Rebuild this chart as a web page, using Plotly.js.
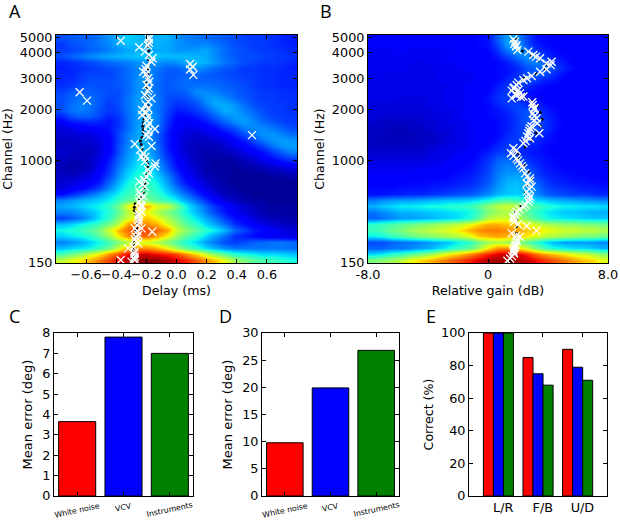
<!DOCTYPE html>
<html><head><meta charset="utf-8">
<script src="https://cdn.plot.ly/plotly-3.0.1.min.js"></script>
<style>html,body{margin:0;padding:0;background:#fff}</style></head>
<body><div id="chart" style="width:620px;height:521px"></div>
<script>
// Heatmap values (0-100), rows listed top to bottom
const heatA = [
[20,21,22,22,24,27,30,33,31,29,30,30,27,25,24,23,22,21,20,19,18,18,17,16,15],
[18,20,21,23,24,26,30,31,31,29,30,29,27,26,25,26,24,22,20,19,18,18,17,16,15],
[18,19,20,22,23,25,27,29,30,29,29,29,27,27,28,29,26,23,21,20,19,18,18,17,16],
[20,22,24,26,28,29,30,31,32,32,32,31,31,31,30,29,26,23,21,20,20,19,18,18,17],
[16,17,18,20,21,23,24,25,27,27,27,26,27,29,31,30,27,24,22,20,19,18,18,17,16],
[15,16,17,18,19,20,21,23,26,26,24,22,22,24,27,25,23,21,20,18,18,17,17,16,15],
[16,16,18,19,19,19,21,23,26,27,23,21,21,22,23,22,21,20,19,18,18,17,17,16,16],
[16,17,18,20,20,20,21,23,27,27,23,21,22,23,22,22,22,21,20,19,18,17,17,16,16],
[17,18,20,21,20,20,21,23,27,26,23,21,22,23,24,24,23,22,21,20,18,17,17,16,16],
[19,21,22,22,21,20,20,23,27,27,23,21,21,22,26,26,25,23,22,20,19,18,18,17,17],
[20,22,24,23,21,19,20,24,28,28,24,20,19,20,23,27,28,26,23,21,19,18,18,17,17],
[20,23,25,24,21,18,20,24,28,27,24,20,17,18,20,25,29,29,27,23,20,19,18,18,17],
[20,24,25,23,20,18,19,24,28,28,24,19,15,16,18,21,26,30,28,25,22,20,18,18,17],
[16,20,22,22,19,16,18,23,28,29,25,18,13,13,15,18,22,26,28,27,24,21,19,18,18],
[11,14,15,16,15,14,17,23,28,30,25,17,12,10,12,14,18,22,26,28,26,23,21,19,18],
[8,9,11,12,13,14,18,23,29,29,24,16,11,9,9,11,13,17,20,25,26,26,24,22,20],
[7,7,8,8,10,13,19,25,29,28,22,15,10,8,7,8,10,12,16,20,24,27,27,25,23],
[6,6,7,7,9,12,19,25,30,29,22,15,10,7,6,6,7,9,12,15,20,24,27,28,27],
[6,6,6,6,8,12,20,26,31,30,23,15,10,7,5,5,5,7,9,12,15,19,24,27,28],
[7,6,5,5,8,12,20,27,31,30,24,16,11,7,5,4,4,5,6,9,11,14,18,22,25],
[6,5,5,6,9,14,22,28,33,33,25,18,12,8,5,4,3,3,4,6,8,11,14,17,19],
[5,4,4,6,10,16,23,29,35,35,28,20,13,9,6,4,3,3,3,4,5,7,9,11,13],
[5,4,5,7,11,17,25,32,37,37,30,22,15,10,7,4,3,3,2,3,3,4,5,6,7],
[6,6,7,9,13,19,27,34,39,39,33,26,18,12,8,5,4,3,2,2,2,2,3,3,4],
[7,8,9,11,15,22,30,37,41,41,36,28,20,14,10,7,5,3,2,2,2,2,2,2,2],
[8,10,12,15,19,26,33,39,43,43,38,31,24,18,13,9,6,4,3,2,2,2,2,2,2],
[13,16,19,23,27,32,37,42,45,45,41,35,29,23,17,12,8,5,4,3,2,2,2,2,2],
[25,27,29,31,33,36,41,46,49,49,45,41,36,29,23,17,12,8,6,4,3,3,2,2,2],
[29,30,32,35,37,41,49,63,72,72,62,60,49,37,29,23,17,13,10,7,5,4,3,3,3],
[25,26,28,31,35,39,47,57,64,64,56,50,45,37,31,25,19,14,10,8,6,4,3,3,3],
[19,21,24,29,35,41,51,60,68,70,64,56,49,41,35,29,24,18,14,11,8,6,5,4,4],
[31,33,36,39,43,49,58,74,78,76,72,62,54,46,40,34,29,23,17,14,11,9,7,6,5],
[37,39,41,45,50,60,72,80,85,83,80,74,60,52,46,40,36,30,23,19,15,13,11,9,8],
[33,35,37,40,46,54,66,76,80,80,74,65,54,46,40,34,28,23,17,15,13,11,10,9,8],
[25,27,29,33,37,43,50,56,60,60,56,50,44,38,34,28,24,20,18,20,22,23,24,24,23],
[31,33,35,37,42,48,60,72,76,76,72,64,54,46,40,34,30,26,24,24,24,24,24,24,23],
[44,48,52,60,66,76,84,90,93,93,90,88,84,76,68,60,52,46,40,38,36,34,34,33,32],
[58,62,66,72,78,84,90,96,99,99,99,96,92,88,82,76,70,62,54,50,46,44,42,40,38]
];
const heatB = [
[11,11,11,11,11,11,11,11,11,11,12,13,14,22,28,26,19,14,13,12,12,11,11,11,11],
[11,11,11,11,11,11,11,11,11,11,12,13,14,20,28,28,20,15,13,12,12,11,11,11,11],
[10,10,10,11,10,10,10,10,10,11,11,12,13,17,24,28,24,17,15,13,12,11,11,11,11],
[10,10,10,10,10,10,10,10,11,11,11,11,12,15,19,24,27,22,17,14,13,12,11,11,11],
[10,10,10,10,10,9,10,10,10,11,11,11,12,13,15,19,24,25,22,17,14,12,11,11,11],
[10,10,10,10,9,9,9,10,10,10,11,11,12,13,14,16,20,22,23,19,15,13,12,11,11],
[10,9,9,9,9,9,9,10,10,10,10,11,12,13,14,17,20,22,20,16,13,12,11,11,11],
[9,9,9,9,9,9,9,10,10,10,10,11,12,13,16,18,20,18,15,14,12,12,11,11,11],
[9,9,9,9,9,9,9,9,10,10,11,11,12,15,17,18,17,14,13,12,12,11,11,11,11],
[9,9,9,9,9,9,9,9,10,10,11,12,13,16,18,17,14,13,12,12,11,11,11,11,11],
[9,9,9,8,8,8,9,9,10,10,11,12,14,17,18,16,14,13,12,12,11,11,11,11,11],
[8,8,8,8,8,8,9,9,10,10,11,12,13,16,18,19,16,15,13,12,12,11,11,11,11],
[8,8,8,8,8,8,8,9,9,10,11,12,13,14,16,19,20,18,15,13,12,11,11,11,11],
[8,7,7,7,7,7,8,8,9,10,11,12,13,14,15,18,21,20,16,14,12,12,11,11,11],
[7,6,6,6,6,7,7,8,9,9,10,11,12,13,15,18,21,20,17,14,12,11,11,11,11],
[6,6,5,5,6,6,7,8,8,9,10,11,12,13,15,18,20,20,17,14,12,11,11,11,11],
[6,5,5,5,5,6,6,7,8,9,10,11,12,13,16,18,20,18,15,13,12,11,11,11,11],
[6,5,5,5,5,6,6,7,8,9,10,11,12,14,17,18,18,16,14,13,12,11,11,11,11],
[6,6,6,6,6,6,7,8,9,9,10,12,13,16,18,18,16,15,13,12,12,11,11,11,11],
[7,7,7,7,7,7,8,9,9,10,11,13,15,18,19,17,15,14,13,12,12,12,11,11,11],
[8,8,8,8,8,8,9,9,10,11,12,14,17,21,22,20,17,15,14,13,12,12,12,11,11],
[9,9,9,9,9,9,10,10,11,12,13,15,18,23,25,23,19,16,14,13,12,12,12,11,11],
[10,10,10,10,10,11,11,11,12,13,14,16,19,24,26,26,23,18,15,14,13,13,12,12,12],
[11,11,11,11,11,12,12,12,13,14,15,17,20,25,28,29,25,19,16,15,14,13,13,12,12],
[12,12,12,12,13,13,13,14,14,15,16,18,21,26,30,31,28,22,18,16,15,14,14,13,13],
[13,13,13,14,14,14,15,15,16,17,18,20,23,28,31,32,29,24,20,18,17,16,15,15,14],
[14,14,15,15,16,16,17,18,19,20,21,23,26,30,32,33,30,26,22,20,19,18,18,17,16],
[24,26,27,28,28,29,30,31,32,32,33,35,38,42,44,42,38,34,32,30,29,28,27,26,25],
[30,32,34,36,36,37,38,38,40,40,42,46,52,58,60,58,50,44,40,38,36,36,35,35,34],
[24,26,28,30,30,31,32,33,34,35,37,42,50,54,56,52,46,40,36,34,32,32,31,30,30],
[22,24,26,28,28,29,30,32,33,35,38,46,56,60,60,56,50,44,38,36,35,34,33,32,32],
[40,42,44,46,48,50,52,54,56,58,62,68,72,72,70,68,64,60,56,54,52,52,50,50,48],
[42,44,48,50,54,56,58,60,62,66,72,76,78,78,76,74,70,68,64,62,60,60,58,58,56],
[36,38,42,44,48,50,52,54,56,58,62,70,72,74,72,70,66,62,58,56,54,52,50,50,48],
[20,20,22,24,24,26,28,30,32,36,40,48,54,56,54,50,46,40,34,30,28,28,28,27,26],
[22,22,24,24,26,28,30,34,38,42,46,54,66,76,76,68,60,50,42,38,36,34,34,32,30],
[34,36,40,42,46,50,54,60,66,70,76,82,88,92,94,92,88,80,74,70,66,62,60,56,52],
[50,52,54,58,64,68,72,76,80,84,88,92,96,97,97,96,94,90,86,82,78,74,70,68,62]
];
// Channel axis: position of each labelled frequency along the channel scale
const channelTicks = [0, 44.9, 67.4, 81.1, 92.4, 98.8];
const channelLabels = ['150','1000','2000','3000','4000','5000'];
const delayTicks = [-0.6,-0.4,-0.2,0,0.2,0.4,0.6];
const delayLabels = ['\u22120.6','\u22120.4','\u22120.2','0.0','0.2','0.4','0.6'];
const gainTicks = [-8,0,8];
const gainLabels = ['-8.0','0','8.0'];

// Panel A markers
const aCrossX = [-.183,-.183,-.37,-.248,-.21,-.183,-.159,-.166,-.221,-.188,-.181,-.199,-.183,-.21,-.166,-.188,-.228,-.188,-.228,-.188,-.181,-.143,-.188,-.183,-.277,-.166,-.243,-.232,-.206,-.139,-.143,-.183,-.199,-.248,-.21,-.248,-.217,-.248,-.232,-.232,-.254,-.248,-.277,-.232,-.161,-.254,-.277,-.254,-.321,-.277,-.277,-.277,-.37,-.299,.09,.108,.09,.112,-.643,-.594,.501,-.183,-.19,-.2,-.205,-.2,-.19,-.205,-.2,-.195,-.19,-.2,-.22,-.21,-.19,-.215,-.225,-.24,-.235,-.235,-.24,-.25,-.25,-.26,-.26,-.27,-.27,-.28,-.28,-.285];
const aCrossCh = [98.1,96.6,97.5,94.6,92.7,91.2,89.8,88.3,83.9,81,79.5,78.1,76.6,73.7,72.2,70.8,67.1,67.8,64.9,64.2,61.3,58.8,57.6,55.4,52.2,51.3,49.6,46.6,46.6,43.7,42.3,39.3,37.9,35.7,33.5,31.3,29.1,26.9,24.7,22.5,20.3,17.7,15.2,15.2,13.7,12.3,10.4,8.6,6.4,5,2.8,1.3,1.3,.6,87.3,86.1,84.9,82.5,74.9,71.2,56.1,99,95.5,86.5,85,83,75.5,69.5,66,62.5,60,56,48,44.5,41,36.5,34.5,30,28,25.5,23.5,21.5,19,16.5,14,11.5,9.5,4,2,7];
const aDotX = [-.29,-.29,-.29,-.285,-.285,-.28,-.28,-.275,-.27,-.265,-.26,-.255,-.26,-.27,-.28,-.28,-.275,-.25,-.23,-.22,-.215,-.21,-.21,-.2,-.19,-.19,-.19,-.2,-.21,-.22,-.23,-.235,-.24,-.23,-.22,-.22,-.225,-.22,-.215,-.21,-.2,-.19,-.19,-.195,-.2,-.2,-.2,-.195,-.19,-.19,-.185,-.185,-.185,-.185,-.185,-.185];
const aDotCh = [1,3,5,6.5,8,9.5,11,12.5,14,15.5,17,18.5,20,21.5,23,24.5,26,27.5,29,31,33,35,37,38.5,40,42,43.5,45,46.5,48,50,52,53.5,55,57,58.5,60,61.5,63,65,67,69,71,73,75,77,79,81,83,85,87,89,91,93,95,97];

// Panel B markers
const bCrossX = [1.69,1.8,1.87,1.96,2.69,3.02,3.47,4.24,4.18,3.47,2.91,2.36,2.02,1.91,1.69,2.02,1.58,2.13,1.91,2.36,1.58,2.98,3.07,2.98,3.24,3.29,2.8,2.69,3.42,2.8,2.36,1.69,1.53,1.91,2.13,2.36,2.47,2.8,2.58,2.91,2.58,2.8,2.69,2.36,1.91,1.69,1.73,2.58,3.24,1.58,2.13,1.91,1.8,1.69,1.73,1.47,1.29,1.75,1.9,3.2,3.9,3.9,2.6,1.75,1.8,2.2,2.95,3.1,3.1,3.05,2.9,2.75,2.6,2.5,1.9,1.7,2,2.25,2.6,2.8,2.75,2.7,2.75,2.5,2.1,1.8,1.7,2,1.9,1.9,1.85,1.75,1.7,1.6];
const bCrossCh = [98.1,97.1,94.9,93.4,92.7,91.2,89.8,88.3,86.8,83.9,82,80.3,79.1,78.1,76.6,75.9,75.6,74.4,73.7,73,72.2,69.3,67.4,65.6,63.5,61.3,59.1,56.9,56.9,54.7,52.5,50.3,48.1,45.9,43.7,41.5,39.3,37.1,34.9,33.5,31.3,29.1,26.9,24.7,22.5,20.3,18.1,16.2,14.2,13,11.5,9.4,7.2,5.7,4.2,2,1,96,95.5,90.5,87.5,85,81,77,74,72.8,70.5,68,64.5,62.5,60,58,55.5,53.5,49.5,47,45,42.5,38,36,32.5,30,28,25.5,23.5,21.5,19.5,17,12,10.5,8,6.5,5,3];
const bDotX = [1.9,1.9,2.3,2.9,3.4,3.9,3.8,3.2,2.4,2,1.8,1.8,2.3,2.9,3.3,3.5,3.6,3.5,3.2,2.9,2.5,2,2,2.4,2.7,2.9,2.6,2.5,2.7,2.2,1.8,1.9,1.9,1.9,1.9,1.8,1.8,1.5];
const bDotCh = [98,96,93,91,89,87,85,83,81,79,77,75,73,71,69,66,63,60,57,54,51,48,46,43,40,37,34,31,28,25,22,19,16,13,10,7,4,1];

// Bars
const soundCategories = ['White noise','VCV','Instruments'];
const barColors = ['#ff0000','#0000ff','#008000'];
const errorAzimuth = [3.65,7.8,7];
const errorElevation = [9.8,19.9,26.8];
const directionLabels = ['L/R','F/B','U/D'];
const correctWhiteNoise = [100,85,90];
const correctVCV = [100,75,79];
const correctInstruments = [100,68,71];

const jet = [[0,'#000080'],[.11,'#0000ff'],[.125,'#0000ff'],[.34,'#00dbff'],[.375,'#14ffe2'],[.64,'#eeff08'],[.66,'#ffec00'],[.89,'#ff1400'],[.91,'#e80000'],[1,'#800000']];
const W = 620, H = 521;
const font = {family:'"DejaVu Sans", sans-serif', color:'#000'};
const dom = (a,b,L)=> L==='x' ? [a/W,b/W] : [1-b/H,1-a/H];

function baseAxis(extra){
  return Object.assign({showgrid:false,zeroline:false,showline:true,linecolor:'#000',linewidth:1,mirror:'allticks',tickangle:0,
    ticks:'inside',ticklen:4,tickwidth:1,tickcolor:'#000',tickfont:Object.assign({size:12.8},font),automargin:false,layer:'above traces'},extra);
}
function heat(z,xref,yref,x0,dx){
  return {type:'heatmap',z:z.slice().reverse(),x0:x0,dx:dx,y0:1.3,dy:2.632,xaxis:xref,yaxis:yref,colorscale:jet,zmin:0,zmax:100,showscale:false,zsmooth:'best',hoverinfo:'skip'};
}
function dots(x,y,xref,yref){
  return {type:'scatter',mode:'markers',x:x,y:y,xaxis:xref,yaxis:yref,marker:{color:'#000',size:3,line:{width:0}},hoverinfo:'skip'};
}
function crosses(x,y,xref,yref){
  return {type:'scatter',mode:'markers',x:x,y:y,xaxis:xref,yaxis:yref,marker:{symbol:'x-thin',size:8,color:'#fff',line:{color:'#fff',width:1.3}},hoverinfo:'skip'};
}
function bar(x,y,colors,xref,yref,w,off){
  return {type:'bar',x:x,y:y,width:w,offset:off,xaxis:xref,yaxis:yref,marker:{color:colors,line:{color:'#000',width:1}},hoverinfo:'skip'};
}
const idx = [0,1,2];
const data = [
  heat(heatA,'x','y',-0.768,0.064), dots(aDotX,aDotCh,'x','y'), crosses(aCrossX,aCrossCh,'x','y'),
  heat(heatB,'x2','y2',-7.68,0.64), dots(bDotX,bDotCh,'x2','y2'), crosses(bCrossX,bCrossCh,'x2','y2'),
  bar(idx,errorAzimuth,barColors,'x3','y3',0.8,-0.4),
  bar(idx,errorElevation,barColors,'x4','y4',0.8,-0.4),
  bar(idx,correctWhiteNoise,barColors[0],'x5','y5',0.253,-0.38),
  bar(idx,correctVCV,barColors[1],'x5','y5',0.253,-0.127),
  bar(idx,correctInstruments,barColors[2],'x5','y5',0.253,0.126)
];
const ttl = (t,s,so)=>({text:t,font:Object.assign({size:s},font),standoff:so});
const layout = {
  width:W,height:H,margin:{l:0,r:0,t:0,b:0},paper_bgcolor:'#fff',plot_bgcolor:'#fff',showlegend:false,barmode:'overlay',
  xaxis:baseAxis({domain:dom(56,297,'x'),range:[-0.8,0.8],tickmode:'array',tickvals:delayTicks,ticktext:delayLabels,title:ttl('Delay (ms)',12.6,4),anchor:'y'}),
  yaxis:baseAxis({domain:dom(35,263,'y'),range:[0,100],tickmode:'array',tickvals:channelTicks,ticktext:channelLabels,title:ttl('Channel (Hz)',12.6,4),anchor:'x'}),
  xaxis2:baseAxis({domain:dom(368,608,'x'),range:[-8,8],tickmode:'array',tickvals:gainTicks,ticktext:gainLabels,title:ttl('Relative gain (dB)',12.6,4),anchor:'y2'}),
  yaxis2:baseAxis({domain:dom(35,263,'y'),range:[0,100],tickmode:'array',tickvals:channelTicks,ticktext:channelLabels,title:ttl('Channel (Hz)',12.6,4),anchor:'x2'}),
  xaxis3:baseAxis({domain:dom(54,193,'x'),range:[-0.5,2.5],tickmode:'array',tickvals:idx,showticklabels:false,anchor:'y3'}),
  yaxis3:baseAxis({domain:dom(333,496,'y'),range:[0,8],tickmode:'array',tickvals:[0,1,2,3,4,5,6,7,8],title:ttl('Mean error (deg)',13,6),anchor:'x3'}),
  xaxis4:baseAxis({domain:dom(262,399,'x'),range:[-0.5,2.5],tickmode:'array',tickvals:idx,showticklabels:false,anchor:'y4'}),
  yaxis4:baseAxis({domain:dom(333,496,'y'),range:[0,30],tickmode:'array',tickvals:[0,5,10,15,20,25,30],title:ttl('Mean error (deg)',13,6),anchor:'x4'}),
  xaxis5:baseAxis({domain:dom(469,607,'x'),range:[-0.743,2.74],tickmode:'array',tickvals:[0.12,1.12,2.12],ticktext:directionLabels,anchor:'y5'}),
  yaxis5:baseAxis({domain:dom(333,496,'y'),range:[0,100],tickmode:'array',tickvals:[0,20,40,60,80,100],title:ttl('Correct (%)',12.6,4),anchor:'x5'}),
  annotations:[]
};
// Panel letters
[['A',7,11],['B',318,11],['C',7,316],['D',217,316],['E',424,316]].forEach(p=>{
  layout.annotations.push({text:p[0],xref:'paper',yref:'paper',x:p[1]/W,y:1-p[2]/H,xanchor:'left',yanchor:'middle',showarrow:false,font:{family:'"Open Sans", sans-serif',size:18,color:'#000'}});
});
// Rotated category labels
[['x3',[510,507,509]],['x4',[510,507,509]]].forEach(a=>{
  soundCategories.forEach((c,i)=>{
    layout.annotations.push({text:c,xref:a[0],yref:'paper',x:i,y:1-a[1][i]/H,xanchor:'center',yanchor:'middle',textangle:-12,showarrow:false,font:Object.assign({size:7.8},font)});
  });
});
Plotly.newPlot('chart',data,layout,{displayModeBar:false,staticPlot:true});
</script></body></html>
